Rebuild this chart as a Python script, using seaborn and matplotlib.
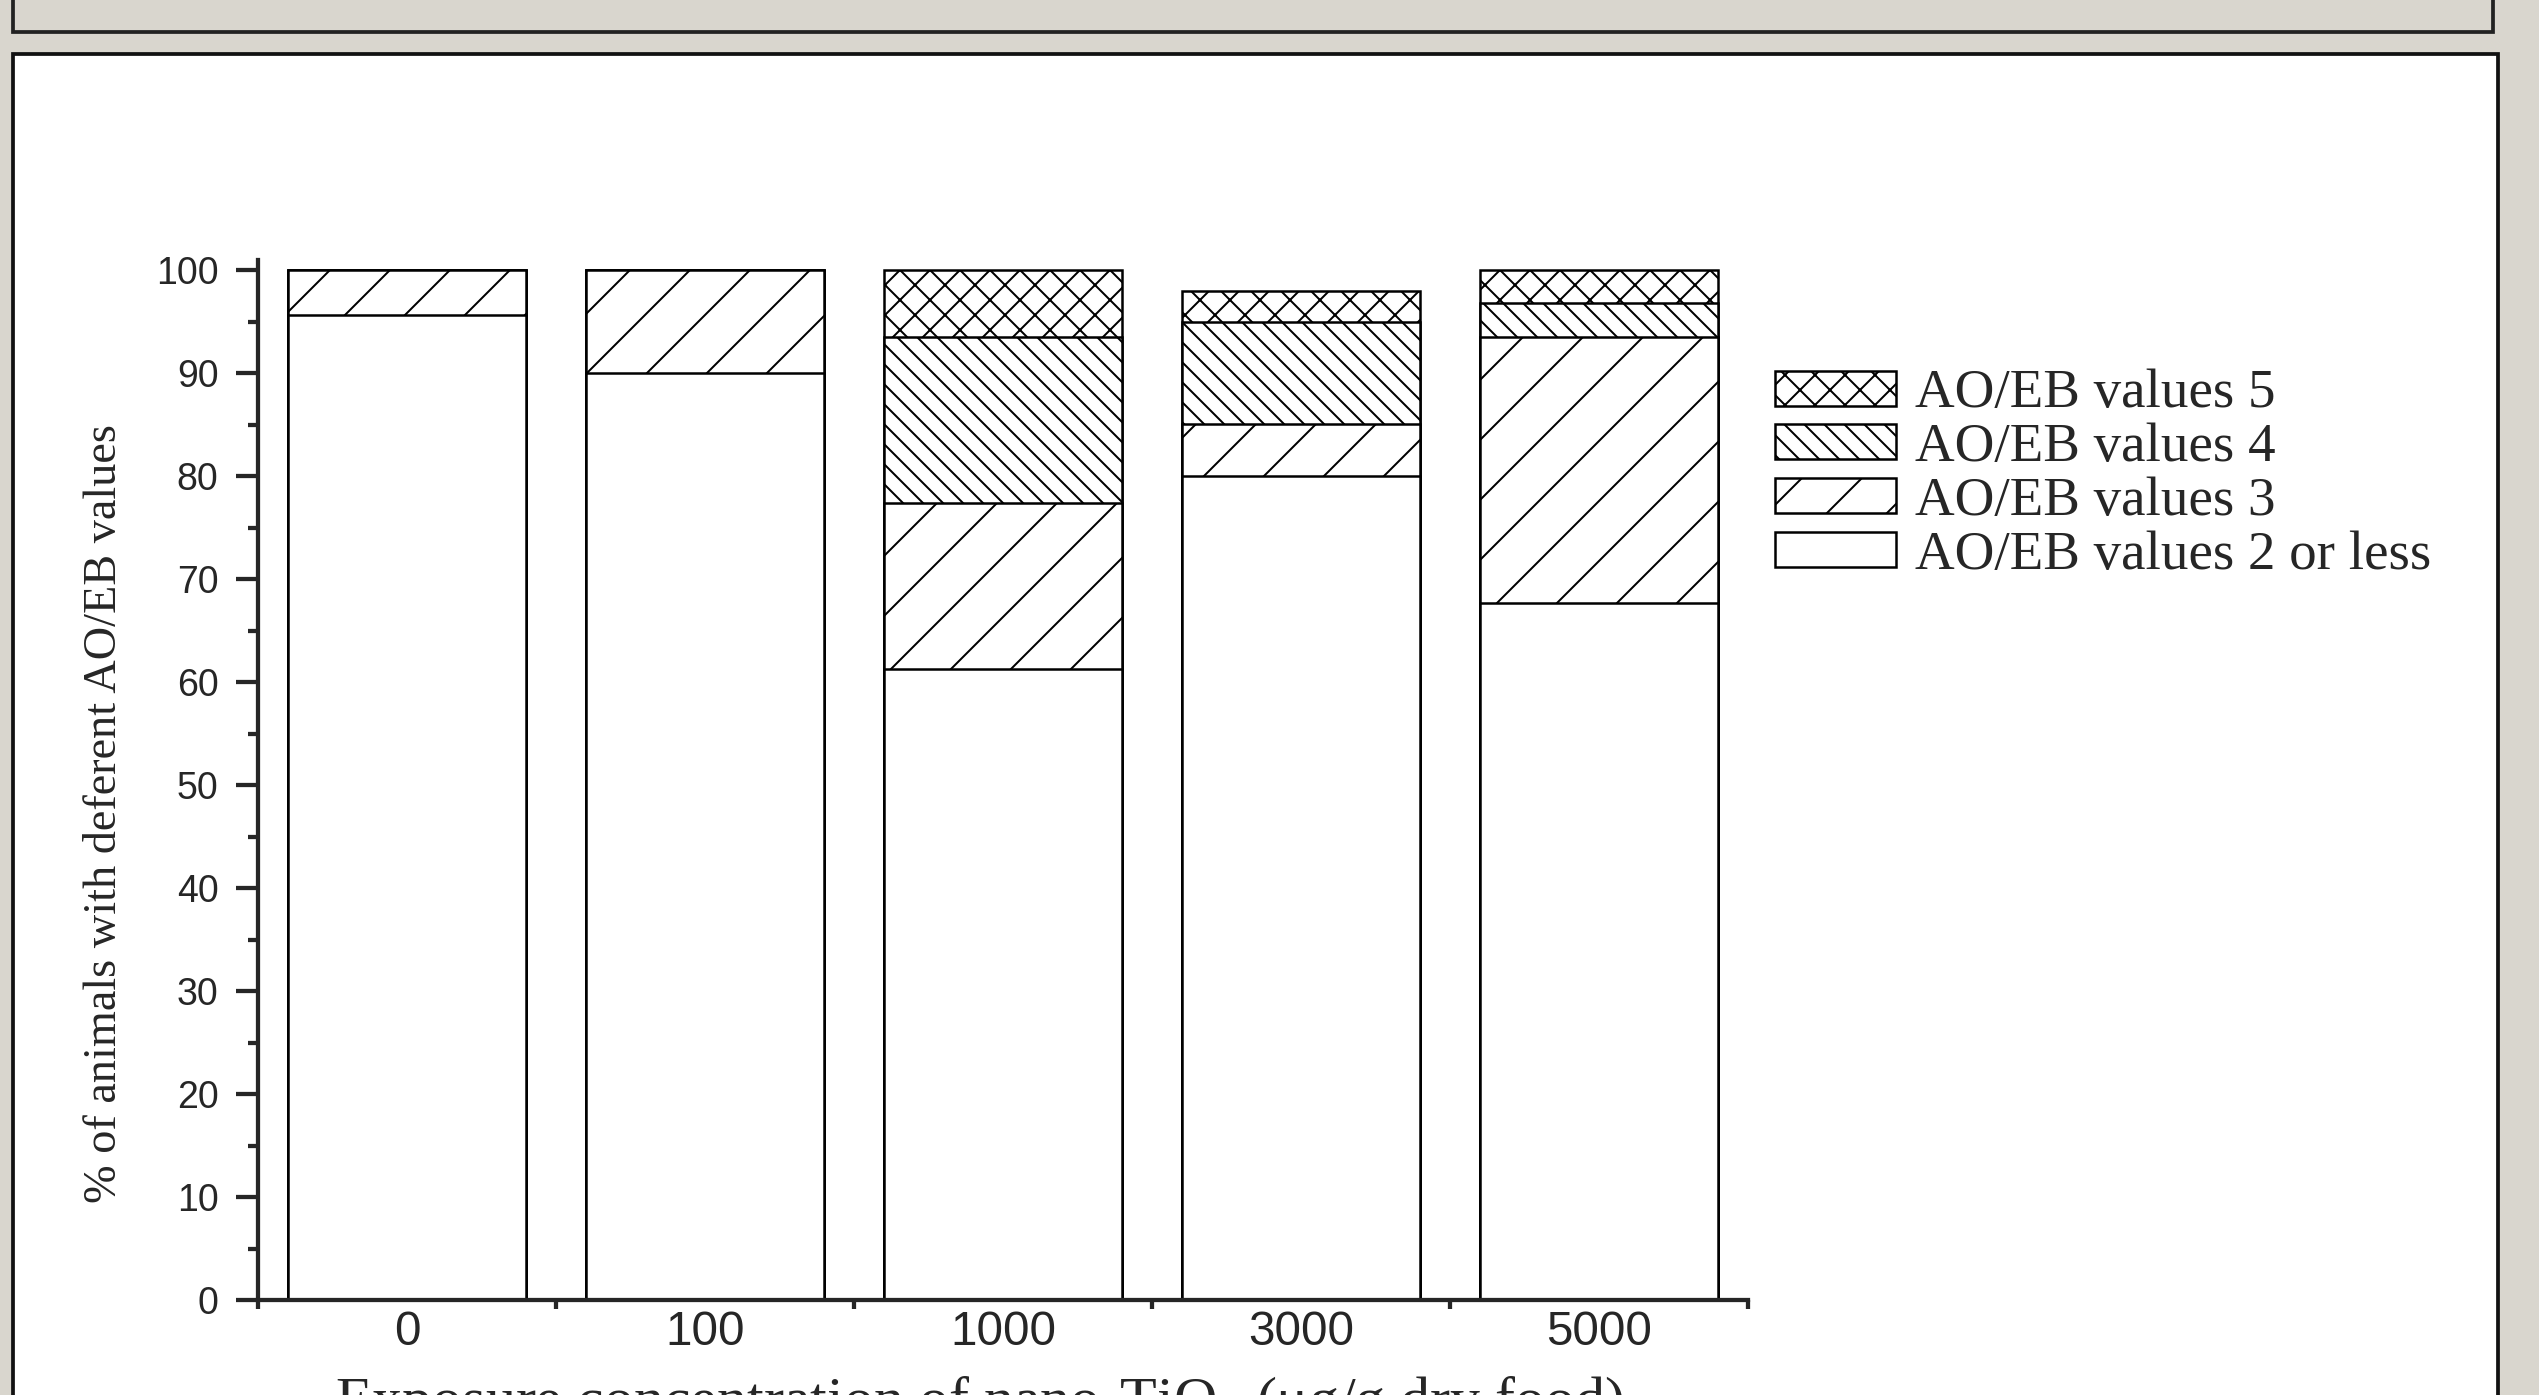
import matplotlib
matplotlib.use('Agg')
import matplotlib.pyplot as plt
import pandas as pd
import seaborn as sns
from matplotlib.patches import Patch, Rectangle
from matplotlib.ticker import MultipleLocator

# values (% of animals)
concentrations = ["0", "100", "1000", "3000", "5000"]
value_2_or_less = [95.7, 90.0, 61.3, 80.0, 67.7]
value_3 = [4.3, 10.0, 16.1, 5.1, 25.8]
value_4 = [0.0, 0.0, 16.1, 9.9, 3.3]
value_5 = [0.0, 0.0, 6.5, 3.0, 3.2]
legend_labels = ["AO/EB values 5", "AO/EB values 4", "AO/EB values 3", "AO/EB values 2 or less"]
hatches = ["xx", "\\\\\\", "/", ""]

df = pd.DataFrame({"conc": concentrations, "v2": value_2_or_less, "v3": value_3,
                   "v4": value_4, "v5": value_5})
df["top2"] = df["v2"]
df["top3"] = df["top2"] + df["v3"]
df["top4"] = df["top3"] + df["v4"]
df["top5"] = df["top4"] + df["v5"]

sns.set_theme(style="ticks")
plt.rcParams["font.family"] = ["Liberation Sans", "DejaVu Sans"]
plt.rcParams["mathtext.fontset"] = "stix"
plt.rcParams["hatch.linewidth"] = 0.8
plt.rcParams["hatch.color"] = "black"

W, H, DPI = 2539, 1395, 180
bg = "#d9d6ce"
fig = plt.figure(figsize=(W / DPI, H / DPI), dpi=DPI, facecolor=bg)

# slide frame around the chart
fig.add_artist(Rectangle((13 / W, 1 - 32 / H), (2493 - 13) / W, 0.2, transform=fig.transFigure,
                         facecolor=bg, edgecolor="#222222", linewidth=1.5, zorder=-5))
fig.add_artist(Rectangle((13 / W, -0.05), (2498 - 13) / W, 1.05 - 54 / H, transform=fig.transFigure,
                         facecolor="white", edgecolor="#111111", linewidth=1.5, zorder=-5))

ax = fig.add_axes([258 / W, 1 - 1300 / H, (1748 - 258) / W, (1300 - 260) / H])
ax.set_facecolor("none")

# stacked bars: draw cumulative totals from the top down
for col, hatch in zip(["top5", "top4", "top3", "top2"], hatches):
    sns.barplot(data=df, x="conc", y=col, order=concentrations, color="white", saturation=1,
                edgecolor="black", linewidth=1.0, hatch=hatch, errorbar=None, ax=ax)

ax.set_xlim(-0.5, 4.5)
ax.set_ylim(0, 101)
sns.despine(ax=ax)
for s in ["left", "bottom"]:
    ax.spines[s].set_linewidth(1.7)

ax.set_xticks(range(len(concentrations)))
ax.set_xticklabels(concentrations, fontsize=19)
ax.set_xticks([i - 0.5 for i in range(len(concentrations) + 1)], minor=True)
ax.tick_params(axis="x", which="major", length=0, pad=4)
ax.tick_params(axis="x", which="minor", length=3.6, width=1.7, direction="out")

ax.set_yticks(range(0, 101, 10))
ax.yaxis.set_minor_locator(MultipleLocator(5))
ax.tick_params(axis="y", which="major", length=8.8, width=1.7, direction="out", labelsize=15, pad=7)
ax.tick_params(axis="y", which="minor", length=4, width=1.7, direction="out")

ax.set_xlabel("")
ax.set_ylabel("% of animals with deferent AO/EB values", family="Liberation Serif", fontsize=18.5, va="center")
ax.yaxis.set_label_coords(-0.1027, 0.468)

fig.text(980 / W, 1 - 1374 / H, "Exposure concentration of nano-TiO$_2$ (\u03bcg/g dry food)",
         ha="center", va="top", fontsize=24, family="Liberation Serif")

handles = [Patch(facecolor="white", edgecolor="black", linewidth=1.0, hatch=h) for h in hatches]
ax.legend(handles, legend_labels, loc="upper left", bbox_to_anchor=(1775 / W, 1 - 369 / H),
          bbox_transform=fig.transFigure, frameon=False, borderpad=0, borderaxespad=0,
          prop={"family": "Liberation Serif", "size": 22}, handlelength=2.2, handleheight=0.6,
          handletextpad=0.35, labelspacing=0.06)

fig.savefig("out.png", dpi=DPI, facecolor=bg)
